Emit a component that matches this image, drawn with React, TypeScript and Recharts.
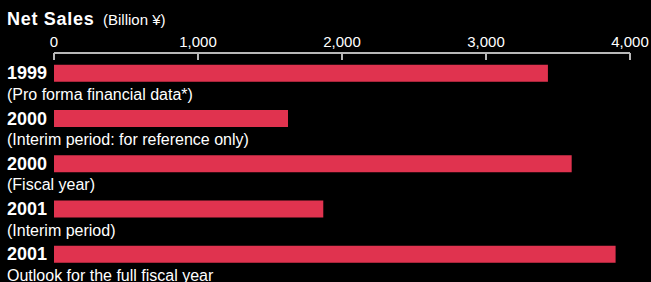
import React from 'react';
import { BarChart, Bar, XAxis, YAxis } from 'recharts';

const categories = ['1999', '2000', '2000', '2001', '2001'];
const subtitles = [
  '(Pro forma financial data*)',
  '(Interim period: for reference only)',
  '(Fiscal year)',
  '(Interim period)',
  'Outlook for the full fiscal year',
];
const netSales = [3430, 1625, 3595, 1870, 3900];
const xTicks = [0, 1000, 2000, 3000, 4000];

const data = categories.map((c, i) => ({ id: i, year: c, sub: subtitles[i], value: netSales[i] }));

const FONT = '"Liberation Sans", Arial, Helvetica, sans-serif';
const AXIS = '#b8b8b8';
const BAR = '#e0334f';

const XTick = (props: any) => {
  const { x, y, payload } = props;
  return (
    <text x={x} y={y} textAnchor="middle" fontSize={15} fill="#ffffff" fontFamily={FONT}>
      {payload.value.toLocaleString('en-US')}
    </text>
  );
};

const YTick = (props: any) => {
  const { y, payload } = props;
  const i = payload.value;
  return (
    <g>
      <text x={7} y={y + 6} fontSize={18} fontWeight="bold" fill="#ffffff" fontFamily={FONT}>
        {categories[i]}
      </text>
      <text x={7} y={y + 26.5} fontSize={16} fill="#ffffff" fontFamily={FONT}>
        {subtitles[i]}
      </text>
    </g>
  );
};

export default function App() {
  return (
    <div style={{ position: 'absolute', left: 0, top: 0, width: 651, height: 282, background: '#000', overflow: 'hidden' }}>
      <svg width={651} height={40} style={{ position: 'absolute', left: 0, top: 0 }}>
        <text x={7} y={25} fill="#ffffff" fontFamily={FONT}>
          <tspan fontSize={18} fontWeight="bold" letterSpacing={0.7}>Net Sales</tspan>
        </text>
        <text x={103} y={25} fill="#ffffff" fontFamily={FONT} fontSize={15}>
          (Billion ¥)
        </text>
      </svg>
      <div style={{ position: 'absolute', left: 0, top: 0 }}>
        <BarChart
          width={651}
          height={282}
          data={data}
          layout="vertical"
          margin={{ top: 23, right: 21, left: 0, bottom: 0 }}
        >
          <XAxis
            type="number"
            orientation="top"
            domain={[0, 4000]}
            ticks={xTicks}
            height={30}
            interval={0}
            tick={<XTick />}
            tickSize={-7}
            tickMargin={13.5}
            axisLine={{ stroke: AXIS, strokeWidth: 2 }}
            tickLine={{ stroke: AXIS, strokeWidth: 2 }}
          />
          <YAxis
            type="category"
            dataKey="id"
            width={54}
            axisLine={false}
            tickLine={false}
            tick={<YTick />}
            interval={0}
            padding={{ top: -2.3, bottom: 5 }}
          />
          <Bar dataKey="value" fill={BAR} barSize={17} isAnimationActive={false} />
        </BarChart>
      </div>
    </div>
  );
}
